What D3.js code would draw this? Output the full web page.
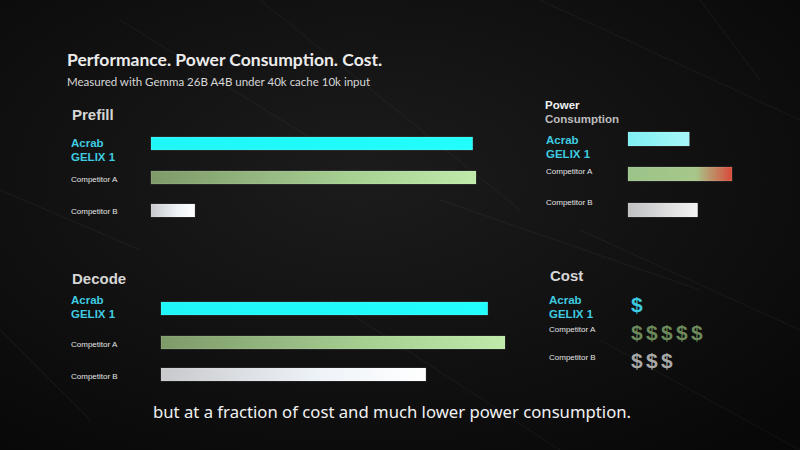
<!DOCTYPE html>
<html>
<head>
<meta charset="utf-8">
<script src="https://cdn.jsdelivr.net/npm/d3@7"></script>
<style>
  html, body { margin: 0; padding: 0; background: #0c0c0c; }
  svg { display: block; }
</style>
</head>
<body>
<div id="chart"></div>
<script>
// ---- data (relative values) ----
var rows = ["Acrab GELIX 1", "Competitor A", "Competitor B"];
var prefill = [99, 100, 13.5];
var decode = [95, 100, 77];
var power = [59, 100, 67];
var cost = [1, 5, 3];

var width = 800,
    height = 450;

var svg = d3.select("#chart").append("svg")
    .attr("width", width)
    .attr("height", height);

var defs = svg.append("defs");

// background
var bg = defs.append("radialGradient").attr("id", "bg")
    .attr("cx", "45%").attr("cy", "40%").attr("r", "75%");
bg.append("stop").attr("offset", "0%").attr("stop-color", "#1c1c1c");
bg.append("stop").attr("offset", "100%").attr("stop-color", "#080808");

function linGrad(id, stops) {
    var g = defs.append("linearGradient").attr("id", id)
        .attr("x1", "0%").attr("x2", "100%").attr("y1", "0%").attr("y2", "0%");
    stops.forEach(function(s) {
        g.append("stop").attr("offset", s[0]).attr("stop-color", s[1]);
    });
}
linGrad("gCyan", [["0%", "#1ff6f8"], ["100%", "#22fdfd"]]);
linGrad("gGreen", [["0%", "#7e9a68"], ["60%", "#a6cf92"], ["100%", "#bfeaaa"]]);
linGrad("gWhite", [["0%", "#c8c9cc"], ["60%", "#eef3f8"], ["100%", "#ffffff"]]);
linGrad("gPowCyan", [["0%", "#7ff0f4"], ["100%", "#a6f7f7"]]);
linGrad("gPowGreen", [["0%", "#9bc489"], ["65%", "#a7c78a"], ["100%", "#d94a3a"]]);
linGrad("gPowWhite", [["0%", "#bfc0c2"], ["100%", "#f4f4f4"]]);

svg.append("rect").attr("width", width).attr("height", height).attr("fill", "url(#bg)");

// faint background streaks
var streaks = [[0, 190, 140, 250], [120, 20, 330, 150], [260, 0, 520, 210], [540, 0, 800, 120],
               [580, 230, 800, 330], [330, 300, 560, 450], [0, 330, 90, 420], [600, 340, 800, 450],
               [700, 0, 760, 80], [440, 200, 700, 290]];
svg.selectAll(".streak").data(streaks).enter().append("line")
    .attr("x1", function(d) { return d[0]; }).attr("y1", function(d) { return d[1]; })
    .attr("x2", function(d) { return d[2]; }).attr("y2", function(d) { return d[3]; })
    .attr("stroke", "#ffffff").attr("stroke-opacity", 0.05).attr("stroke-width", 1);

// title
svg.append("text").attr("x", 67).attr("y", 66)
    .style("font-family", "Lato, sans-serif").style("font-weight", 700)
    .style("font-size", "17.5px").attr("fill", "#ececec")
    .text("Performance. Power Consumption. Cost.");
svg.append("text").attr("x", 67).attr("y", 86)
    .style("font-family", "Lato, sans-serif")
    .style("font-size", "11.5px").attr("fill", "#d8d8d8")
    .text("Measured with Gemma 26B A4B under 40k cache 10k input");

var cyanText = "#3fcbe0";

// draw one row label (Acrab label on two lines)
function rowLabels(g, x, ys) {
    rows.forEach(function(name, i) {
        if (i === 0) {
            var t = g.append("text").attr("x", x).attr("y", ys[0])
                .style("font-family", "'Liberation Sans', Arial, sans-serif")
                .style("font-weight", 700).style("font-size", "11.5px")
                .attr("fill", cyanText);
            t.append("tspan").attr("x", x).text("Acrab");
            t.append("tspan").attr("x", x).attr("dy", 14).text("GELIX 1");
        } else {
            g.append("text").attr("x", x).attr("y", ys[i])
                .style("font-family", "'Liberation Sans', Arial, sans-serif")
                .style("font-size", "8px").attr("fill", "#e4e4e4")
                .text(name);
        }
    });
}

function panelTitle(x, y, lines, size, colors) {
    var t = svg.append("text").attr("x", x).attr("y", y)
        .style("font-family", "'Liberation Sans', Arial, sans-serif")
        .style("font-weight", 700).style("font-size", size + "px");
    lines.forEach(function(l, i) {
        t.append("tspan").attr("x", x).attr("dy", i ? size + 2 : 0)
            .attr("fill", colors ? colors[i] : "#d6d6d6").text(l);
    });
}

function bars(values, x0, x1, ys, h, fills) {
    var x = d3.scaleLinear().domain([0, 100]).range([x0, x1]);
    svg.append("g").selectAll("rect").data(values).enter().append("rect")
        .attr("x", x(0))
        .attr("y", function(d, i) { return ys[i]; })
        .attr("width", function(d) { return x(d) - x(0); })
        .attr("height", h)
        .attr("fill", function(d, i) { return fills[i]; })
        .attr("stroke", "#ffffff").attr("stroke-opacity", 0.25).attr("stroke-width", 0.6);
}

// Prefill
panelTitle(72, 120, ["Prefill"], 15);
rowLabels(svg.append("g"), 71, [147, 182, 214]);
bars(prefill, 151, 476, [137, 171, 204], 13, ["url(#gCyan)", "url(#gGreen)", "url(#gWhite)"]);

// Decode
panelTitle(72, 284, ["Decode"], 15);
rowLabels(svg.append("g"), 71, [304, 347, 379]);
bars(decode, 161, 505, [302, 336, 368], 13, ["url(#gCyan)", "url(#gGreen)", "url(#gWhite)"]);

// Power Consumption
panelTitle(545, 109, ["Power", "Consumption"], 11.5, ["#f0f0f0", "#bdbdbd"]);
rowLabels(svg.append("g"), 546, [144, 174, 205]);
bars(power, 628, 732, [132, 167, 203], 14, ["url(#gPowCyan)", "url(#gPowGreen)", "url(#gPowWhite)"]);

// Cost
panelTitle(550, 281, ["Cost"], 15);
rowLabels(svg.append("g"), 549, [304, 332, 360]);
var costColors = ["#3ccbe2", "#6c8a5b", "#a9a9a9"];
var costY = [312, 340, 368];
var cx = d3.scaleLinear().domain([0, 1]).range([631, 646]);
cost.forEach(function(n, i) {
    svg.append("g").selectAll("text").data(d3.range(n)).enter().append("text")
        .attr("x", function(d) { return cx(d); })
        .attr("y", costY[i])
        .style("font-family", "'Liberation Sans', Arial, sans-serif")
        .style("font-weight", 700).style("font-size", "21px")
        .attr("fill", costColors[i])
        .text("$");
});

// caption
svg.append("text").attr("x", 153).attr("y", 418)
    .style("font-family", "'Noto Sans', sans-serif")
    .style("font-size", "16.7px").attr("fill", "#f2f2f2")
    .text("but at a fraction of cost and much lower power consumption.");
</script>
</body>
</html>
